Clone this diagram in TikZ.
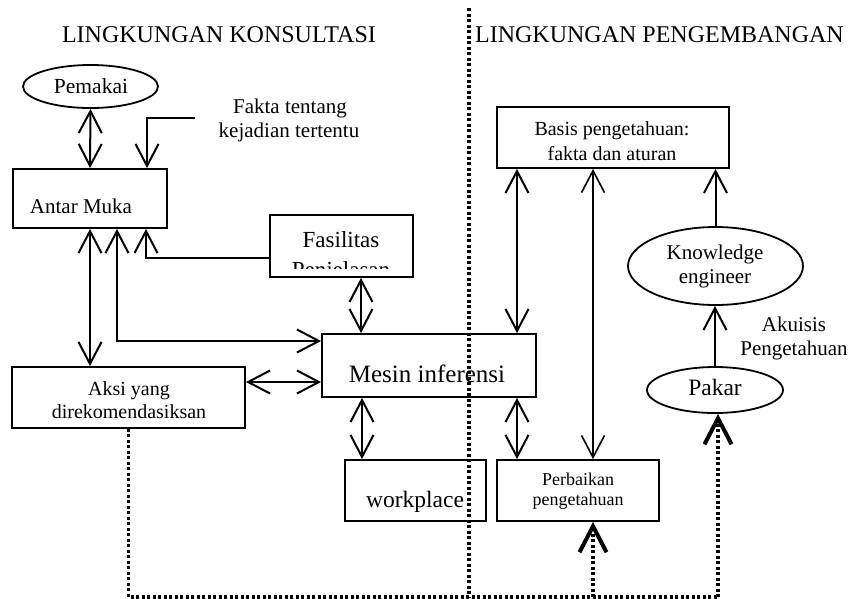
\documentclass[tikz,border=0pt]{standalone}
\usepackage{fontspec}
\setmainfont{Liberation Serif}
\usetikzlibrary{arrows.meta,shapes.geometric,calc}
\begin{document}
\begin{tikzpicture}[x=1pt,y=-1pt,
  boxs/.style={draw,line width=1.8pt,inner sep=0pt,rectangle},
  ell/.style={draw,ellipse,line width=1.8pt,inner sep=0pt},
  txt/.style={anchor=base,inner sep=0pt},
  fs/.style={font=\fontsize{#1}{#1}\selectfont},
  >={Straight Barb[length=22pt,width=23pt]},
  conn/.style={line width=2pt},
  dots/.style={line width=3.5pt,dash pattern=on 3pt off 2.5pt},
  thickhead/.style={-{Straight Barb[length=26pt,width=27pt,line width=4pt]}}]
\useasboundingbox (0,0) rectangle (850,598);
% divider
\coordinate (vt) at (469,8);
\coordinate (vb) at (469,598);
\draw[dots] (vt) -- (vb);
% titles
\node[txt,fs=24] (t1) at (219,42) {LINGKUNGAN KONSULTASI};
\node[txt,fs=24] (t2) at (659.5,42) {LINGKUNGAN PENGEMBANGAN};
% shapes
\node[ell,minimum width=135pt,minimum height=43pt] (pem) at (90.5,86.5) {};
\node[boxs,minimum width=154pt,minimum height=59pt] (am) at (90,198.5) {};
\node[boxs,minimum width=143pt,minimum height=62pt] (fas) at (341.5,246) {};
\node[boxs,minimum width=233pt,minimum height=61pt] (aksi) at (128.5,397.5) {};
\node[boxs,minimum width=214pt,minimum height=63pt] (mes) at (429,365.5) {};
\node[boxs,minimum width=141pt,minimum height=61pt] (wp) at (415.5,490.5) {};
\node[boxs,minimum width=232pt,minimum height=61pt] (bas) at (613,137.5) {};
\node[boxs,minimum width=162pt,minimum height=61pt] (perb) at (578,490.5) {};
\node[ell,minimum width=175pt,minimum height=78pt] (ke) at (715.5,266) {};
\node[ell,minimum width=136pt,minimum height=46pt] (pak) at (715,390) {};
% texts
\node[txt,fs=21.5] (pemt) at (91,93) {Pemakai};
\node[txt,fs=21] (fk1) at (290,113) {Fakta tentang};
\node[txt,fs=21] (fk2) at (289,137) {kejadian tertentu};
\node[txt,fs=21] (amt) at (81,213) {Antar Muka};
\node[txt,fs=23] (fast) at (341,247) {Fasilitas};
\begin{scope}
  \clip (270,215) rectangle (413,268);
  \node[txt,fs=23] (penj) at (341,277) {Penjelasan};
\end{scope}
\node[txt,fs=20] (ak1) at (129,395) {Aksi yang};
\node[txt,fs=20] (ak2) at (129,418) {direkomendasiksan};
\node[txt,fs=25] (mest) at (427,382) {Mesin inferensi};
\node[txt,fs=23.5] (wpt) at (415,507) {workplace};
\node[txt,fs=20] (bas1) at (612,135) {Basis pengetahuan:};
\node[txt,fs=20] (bas2) at (612,160) {fakta dan aturan};
\node[txt,fs=21] (ke1) at (715,259) {Knowledge};
\node[txt,fs=21] (ke2) at (715,283) {engineer};
\node[txt,fs=21] (akt1) at (794,331) {Akuisis};
\node[txt,fs=21] (akt2) at (794,355) {Pengetahuan};
\node[txt,fs=23.5] (pakt) at (715,395) {Pakar};
\node[txt,fs=18] (pb1) at (578,485) {Perbaikan};
\node[txt,fs=18] (pb2) at (578,505) {pengetahuan};
% connectors
\draw[conn,<->] (pem.south) -- (am.north);
\coordinate (fk) at (195,118);
\draw[conn,->] (fk) -| ([xshift=57pt]am.north);
\draw[conn,->] ([yshift=-12pt]fas.west) -| ([xshift=56pt]am.south);
\draw[conn,<->] (am.south) -- (am.south |- aksi.north);
\draw[conn,<->] ([xshift=27pt]am.south) |- ([yshift=24.5pt]mes.west);
\coordinate (p1) at ([yshift=15.5pt]aksi.east);
\draw[conn,<->] (p1) -- (p1 -| mes.west);
\coordinate (p2) at ([xshift=19.5pt]fas.south);
\draw[conn,<->] (p2) -- (p2 |- mes.north);
\coordinate (p3) at ([xshift=-67pt]mes.south);
\draw[conn,<->] (p3) -- (p3 |- wp.north);
\coordinate (p4) at ([xshift=-96pt]bas.south);
\draw[conn,<->] (p4) -- (p4 |- mes.north);
\coordinate (p5) at ([xshift=-61pt]perb.north);
\draw[conn,<->] (p5 |- mes.south) -- (p5);
\coordinate (p6) at ([xshift=-20pt]bas.south);
\draw[conn,<->,line width=1.6pt] (p6) -- (p6 |- perb.north);
\draw[conn,->] (ke.north) -- (ke.north |- bas.south);
\draw[conn,->] (pak.north) -- (pak.north |- ke.south);
% dotted feedback
\coordinate (d1) at (129,597);
\coordinate (d2) at (718,597);
\coordinate (d3) at (593,597);
\draw[dots] (aksi.south) -- (aksi.south |- d1) -- (d2);
\draw[dots,thickhead] (d2) -- (d2 |- pak.south);
\draw[dots,thickhead] (d3) -- (d3 |- perb.south);
\end{tikzpicture}
\end{document}
